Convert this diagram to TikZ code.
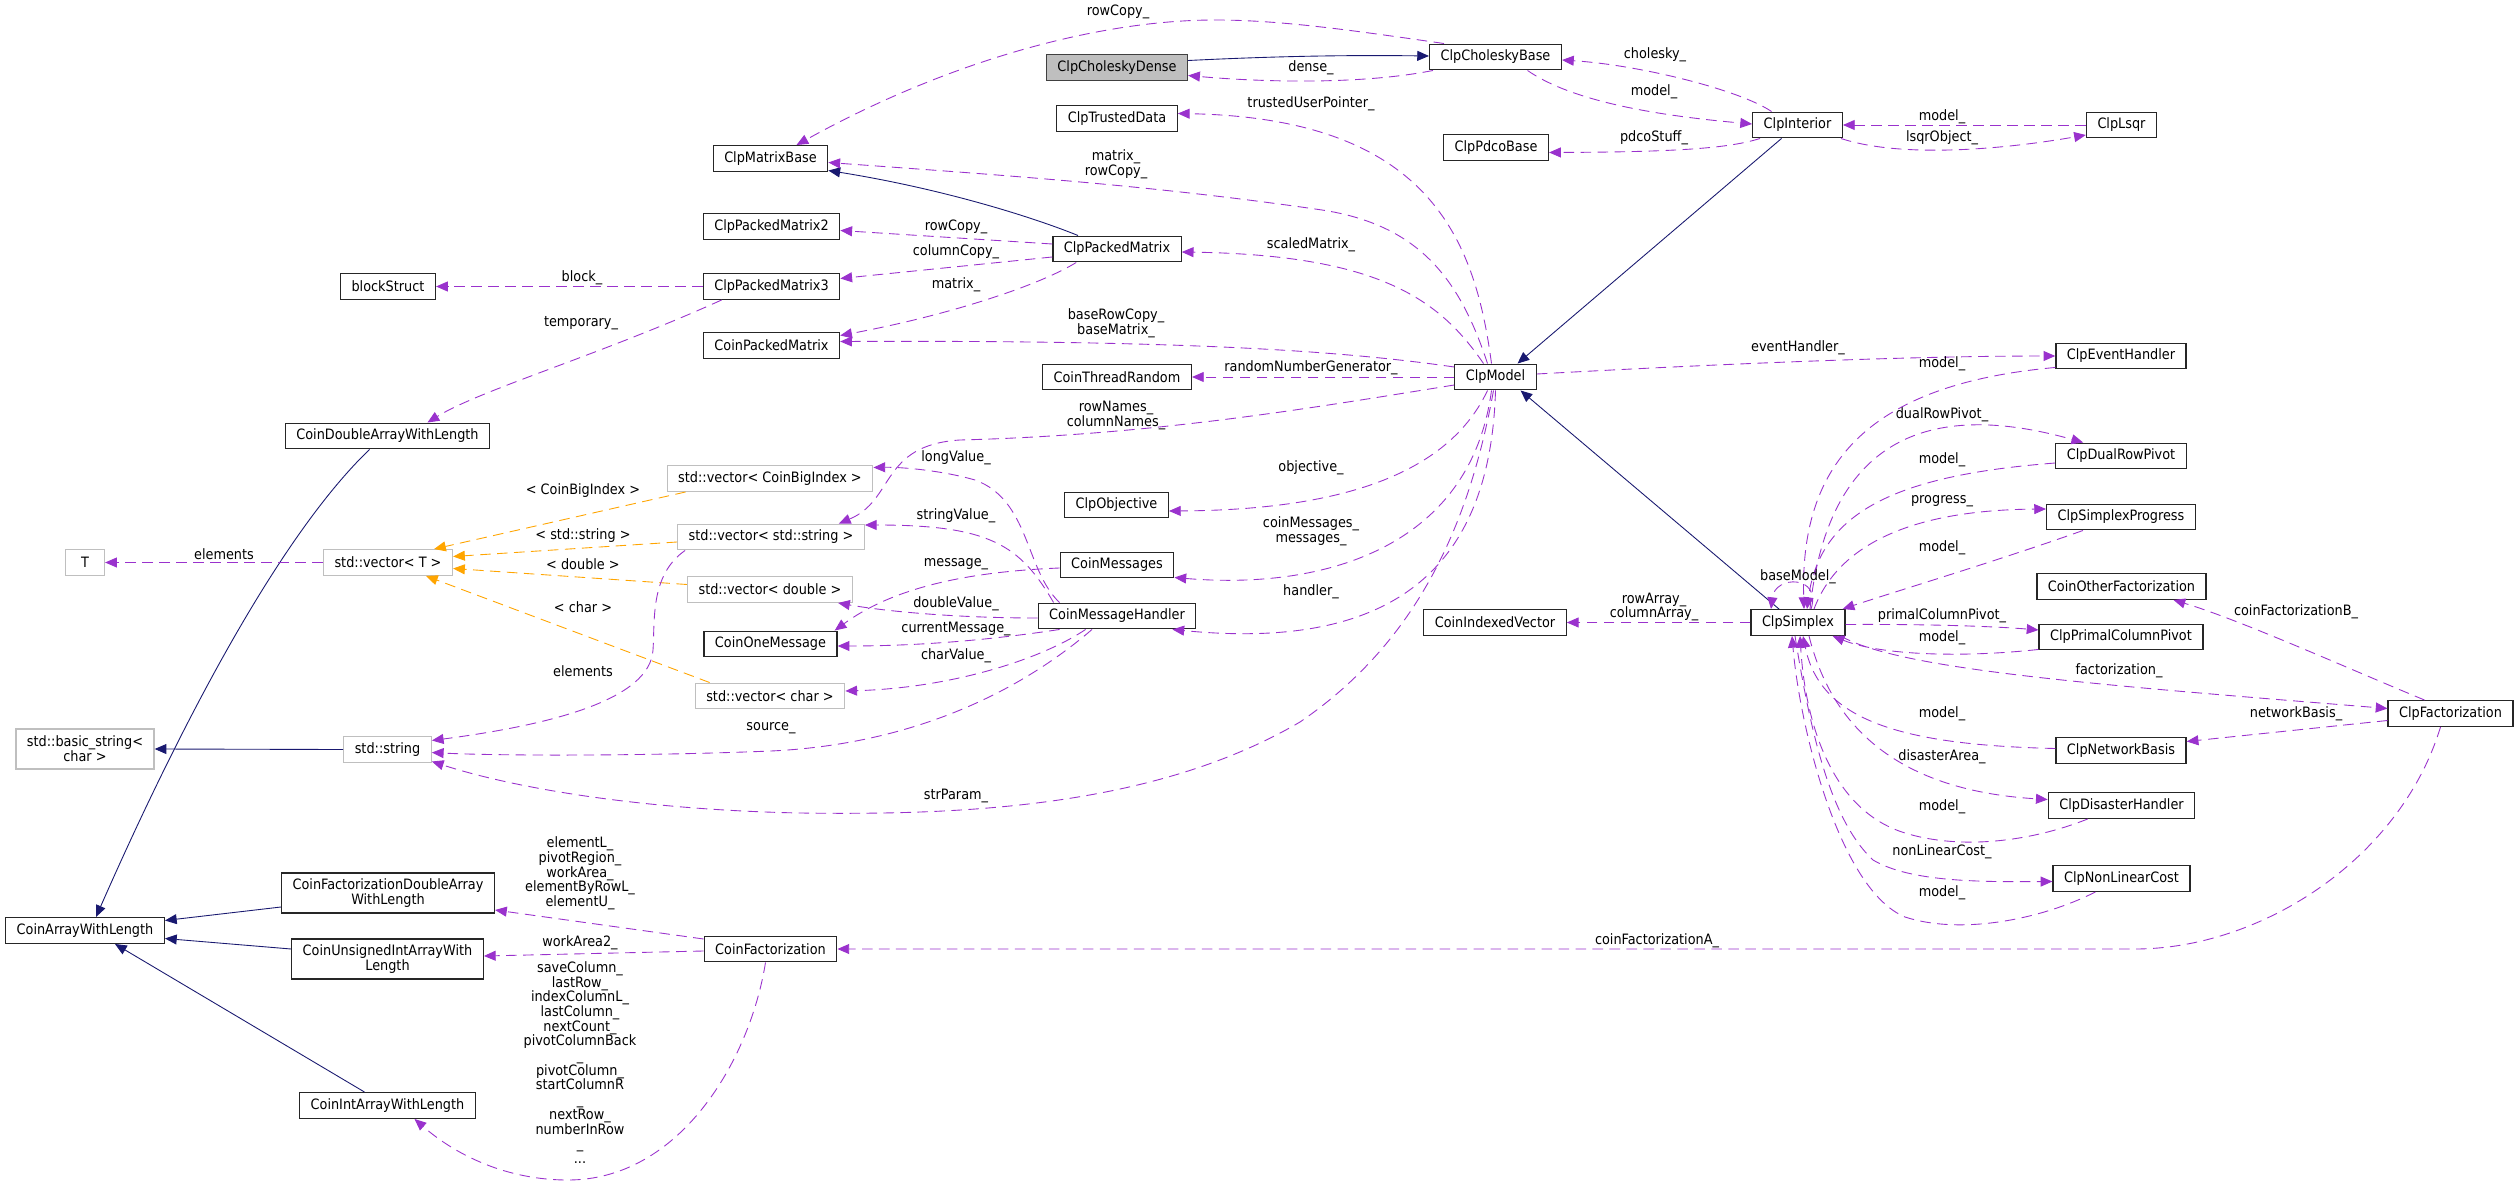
\documentclass[tikz,border=0pt]{standalone}
\usepackage{fontspec}
\setmainfont{DejaVu Sans Condensed}
\usepackage{xcolor}
\usetikzlibrary{arrows.meta,calc}
\definecolor{useline}{RGB}{154,50,205}
\definecolor{navyline}{RGB}{25,25,112}
\definecolor{tmplline}{RGB}{255,165,0}
\definecolor{extgray}{RGB}{191,191,191}
\definecolor{rootfill}{RGB}{191,191,191}
\newcommand{\dxfont}{\fontsize{12.2}{12.55}\selectfont}
\tikzset{
  cls/.style={draw=black!85,line width=1.1pt,fill=white,inner xsep=0.33cm,inner ysep=0pt,
    minimum height=0.77cm,align=center,font=\dxfont},
  ext/.style={cls,draw=extgray},
  root/.style={cls,fill=rootfill,draw=black!75},
  twoline/.style={minimum height=1.2cm},
  uses/.style={useline,line width=0.75pt,dash pattern=on 9pt off 5.5pt,-{Triangle[length=10pt,width=8.5pt]}},
  isa/.style={navyline,line width=0.75pt,-{Triangle[length=10pt,width=8.5pt]}},
  inst/.style={tmplline,line width=0.75pt,dash pattern=on 9pt off 5.5pt,-{Triangle[length=10pt,width=8.5pt]}},
  lbl/.style={font=\dxfont,align=center,inner sep=0pt}
}
\begin{document}
\begin{tikzpicture}[x=0.03cm,y=-0.03cm]
  \path[use as bounding box,fill=white] (0,0) rectangle (2517,1187);
  % classes
  \node[root] (dense) at (1117,67.5) {ClpCholeskyDense};
  \node[cls] (cholbase) at (1495.5,57) {ClpCholeskyBase};
  \node[cls] (trusted) at (1117,118.5) {ClpTrustedData};
  \node[cls] (pdco) at (1496,147.5) {ClpPdcoBase};
  \node[cls] (interior) at (1797.5,125) {ClpInterior};
  \node[cls] (lsqr) at (2121.5,125) {ClpLsqr};
  \node[cls] (matbase) at (770.5,158.5) {ClpMatrixBase};
  \node[cls] (pm2) at (771.5,226.5) {ClpPackedMatrix2};
  \node[cls] (packed) at (1117,249) {ClpPackedMatrix};
  \node[cls] (block) at (388,286.5) {blockStruct};
  \node[cls] (pm3) at (771.5,286.5) {ClpPackedMatrix3};
  \node[cls] (cpm) at (771.5,345.5) {CoinPackedMatrix};
  \node[cls] (rng) at (1117,377) {CoinThreadRandom};
  \node[cls] (model) at (1495.5,377) {ClpModel};
  \node[cls] (evt) at (2121,356) {ClpEventHandler};
  \node[cls] (cdawl) at (387.5,436) {CoinDoubleArrayWithLength};
  \node[cls] (dualrow) at (2121,456) {ClpDualRowPivot};
  \node[ext] (vbig) at (770,478.5) {std::vector< CoinBigIndex >};
  \node[cls] (objective) at (1116.5,505) {ClpObjective};
  \node[cls] (progress) at (2121,517) {ClpSimplexProgress};
  \node[ext] (vstr) at (771,537) {std::vector< std::string >};
  \node[ext,minimum width=1.17cm] (tparam) at (85,562.5) {T};
  \node[ext] (vT) at (388,562.5) {std::vector< T >};
  \node[cls] (messages) at (1117,565) {CoinMessages};
  \node[cls] (other) at (2121.5,586.5) {CoinOtherFactorization};
  \node[ext] (vdbl) at (770,589.5) {std::vector< double >};
  \node[cls] (handler) at (1117,616) {CoinMessageHandler};
  \node[cls] (indexed) at (1495,622.5) {CoinIndexedVector};
  \node[cls] (simplex) at (1798,622.5) {ClpSimplex};
  \node[cls] (primal) at (2121,637) {ClpPrimalColumnPivot};
  \node[cls] (onemsg) at (770.5,644) {CoinOneMessage};
  \node[ext] (vchar) at (770,696) {std::vector< char >};
  \node[cls] (factor) at (2450.5,713.5) {ClpFactorization};
  \node[ext,twoline] (basicstr) at (85,749) {std::basic\_string<\\char >};
  \node[ext] (string) at (387.5,749.5) {std::string};
  \node[cls] (network) at (2121,750.5) {ClpNetworkBasis};
  \node[cls] (disaster) at (2121.5,805.5) {ClpDisasterHandler};
  \node[cls] (nonlin) at (2121.5,878.5) {ClpNonLinearCost};
  \node[cls,twoline] (cfdawl) at (388,893) {CoinFactorizationDoubleArray\\WithLength};
  \node[cls] (cawl) at (85,930.5) {CoinArrayWithLength};
  \node[cls] (coinfact) at (770.5,949) {CoinFactorization};
  \node[cls,twoline] (cuiawl) at (387.5,959) {CoinUnsignedIntArrayWith\\Length};
  \node[cls] (ciawl) at (387.5,1105.5) {CoinIntArrayWithLength};

  % inheritance
  \draw[isa] ($(dense.east)+(0,-7)$) .. controls (1280,56) and (1350,55) .. ($(cholbase.west)+(0,-1)$);
  \draw[isa] ($(packed.north)+(-39,0)$) .. controls (1040,220) and (950,190) .. ($(matbase.east)+(0,12)$);
  \draw[isa] ($(interior.south)+(-16,0)$) -- ($(model.north)+(22,0)$);
  \draw[isa] ($(simplex.north)+(-19,0)$) -- ($(model.south)+(25,0)$);
  \draw[isa] ($(cdawl.south)+(-18,0)$) .. controls (270,545) and (165,760) .. ($(cawl.north)+(11,0)$);
  \draw[isa] (string.west) -- (basicstr.east);
  \draw[isa] ($(cfdawl.west)+(0,14)$) -- ($(cawl.east)+(0,-10)$);
  \draw[isa] ($(cuiawl.west)+(0,-10)$) -- ($(cawl.east)+(0,8)$);
  \draw[isa] ($(ciawl.north)+(-23,0)$) -- ($(cawl.south)+(30,0)$);

  % cholesky and interior
  \draw[uses] ($(cholbase.south west)+(4,0)$) .. controls (1360,85) and (1260,82) .. ($(dense.east)+(0,8)$);
  \draw[uses] ($(cholbase.north west)+(15,0)$) .. controls (1350,30) and (1280,20) .. (1215,20)
    .. controls (1100,20) and (950,60) .. ($(matbase.north)+(26,0)$);
  \draw[uses] ($(interior.north)+(-26,0)$) .. controls (1740,90) and (1640,65) .. ($(cholbase.east)+(0,3)$);
  \draw[uses] ($(cholbase.south)+(32,0)$) .. controls (1570,100) and (1650,115) .. ($(interior.west)+(0,-1)$);
  \draw[uses] ($(interior.south west)+(8,0)$) .. controls (1730,148) and (1680,152) .. ($(pdco.east)+(0,5)$);
  \draw[uses] (lsqr.west) -- (interior.east);
  \draw[uses] ($(interior.south east)+(-2,0)$) .. controls (1900,158) and (2000,150) .. ($(lsqr.west)+(0,10)$);

  % model members
  \draw[uses] ($(model.north)+(-4,0)$) .. controls (1475,240) and (1430,118) .. ($(trusted.east)+(0,-5)$);
  \draw[uses] ($(model.north)+(-8,0)$) .. controls (1460,280) and (1420,225) .. (1322,210)
    .. controls (1150,185) and (1000,175) .. ($(matbase.east)+(0,4)$);
  \draw[uses] ($(model.north)+(-12,0)$) .. controls (1440,300) and (1380,255) .. ($(packed.east)+(0,3)$);
  \draw[uses] ($(model.west)+(0,-10)$) .. controls (1350,352) and (1200,340) .. ($(cpm.east)+(0,-4)$);
  \draw[uses] (model.west) -- (rng.east);
  \draw[uses] ($(model.east)+(0,-3)$) .. controls (1700,365) and (1900,356) .. (evt.west);
  \draw[uses] ($(model.west)+(0,8)$) .. controls (1300,410) and (1150,435) .. (960,440)
    .. controls (880,445) and (895,500) .. ($(vstr.north east)+(-26,0)$);
  \draw[uses] ($(model.south)+(-8,0)$) .. controls (1450,470) and (1350,510) .. ($(objective.east)+(0,6)$);
  \draw[uses] ($(model.south)+(-4,0)$) .. controls (1470,550) and (1320,590) .. ($(messages.south east)+(0,-1)$);
  \draw[uses] (model.south) .. controls (1490,580) and (1380,650) .. ($(handler.south east)+(-24,0)$);
  \draw[uses] ($(model.south)+(-2,0)$) .. controls (1470,520) and (1420,640) .. (1300,722)
    .. controls (1150,810) and (950,815) .. (800,813)
    .. controls (650,810) and (520,790) .. ($(string.east)+(0,12)$);

  % packed matrix
  \draw[uses] ($(packed.west)+(0,-5)$) -- ($(pm2.east)+(0,4)$);
  \draw[uses] ($(packed.west)+(0,8)$) -- ($(pm3.east)+(0,-8)$);
  \draw[uses] ($(packed.south west)+(24,0)$) .. controls (1040,285) and (950,315) .. ($(cpm.east)+(0,-10)$);
  \draw[uses] (pm3.west) -- (block.east);
  \draw[uses] ($(pm3.south west)+(19,0)$) .. controls (600,355) and (480,390) .. ($(cdawl.north)+(40,0)$);

  % templates
  \draw[inst] ($(vbig.south west)+(19,0)$) -- ($(vT.north east)+(-19,0)$);
  \draw[inst] ($(vstr.west)+(0,5)$) -- ($(vT.east)+(0,-6)$);
  \draw[inst] ($(vdbl.west)+(0,-5)$) -- ($(vT.east)+(0,6)$);
  \draw[inst] ($(vchar.north west)+(15,0)$) -- ($(vT.south)+(38,0)$);
  \draw[uses] (vT.west) -- (tparam.east);
  \draw[uses] ($(vstr.south west)+(8,0)$) .. controls (650,575) and (655,620) .. (653,650)
    .. controls (650,700) and (550,725) .. ($(string.east)+(0,-9)$);

  % message handler
  \draw[uses] ($(handler.north west)+(16,0)$) .. controls (1020,545) and (990,525) .. ($(vstr.east)+(0,-12)$);
  \draw[uses] ($(handler.north west)+(22,0)$) .. controls (1025,570) and (1030,500) .. (975,480)
    .. controls (940,470) and (900,467) .. ($(vbig.east)+(0,-11)$);
  \draw[uses] ($(messages.west)+(0,3)$) .. controls (960,572) and (890,590) .. ($(onemsg.north east)+(-3,0)$);
  \draw[uses] ($(handler.west)+(0,2)$) .. controls (960,618) and (890,612) .. ($(vdbl.south east)+(-15,0)$);
  \draw[uses] ($(handler.south west)+(22,0)$) .. controls (990,640) and (920,646) .. ($(onemsg.east)+(0,2)$);
  \draw[uses] ($(handler.south west)+(48,0)$) .. controls (1040,660) and (950,688) .. ($(vchar.east)+(0,-5)$);
  \draw[uses] ($(handler.south)+(-25,0)$) .. controls (1010,700) and (900,745) .. (771,751)
    .. controls (650,756) and (500,756) .. ($(string.east)+(0,3)$);

  % simplex
  \draw[uses] (simplex.west) -- (indexed.east);
  \draw[uses] ($(evt.south west)+(0,-2)$) .. controls (1860,385) and (1800,470) .. ($(simplex.north)+(6,0)$);
  \draw[uses] ($(simplex.north)+(12,0)$) .. controls (1830,420) and (1950,405) .. ($(dualrow.north west)+(28,0)$);
  \draw[uses] ($(dualrow.west)+(0,7)$) .. controls (1900,475) and (1820,510) .. ($(simplex.north)+(9,0)$);
  \draw[uses] ($(simplex.north)+(16,0)$) .. controls (1840,540) and (1920,510) .. ($(progress.west)+(0,-8)$);
  \draw[uses] ($(progress.south west)+(37,0)$) .. controls (2000,560) and (1900,590) .. ($(simplex.north east)+(-3,0)$);
  \draw[uses] ($(simplex.north)+(13,0)$) .. controls (1822,575) and (1775,575) .. ($(simplex.north)+(-27,0)$);
  \draw[uses] ($(simplex.east)+(0,2)$) .. controls (1920,624) and (1990,626) .. ($(primal.west)+(0,-7)$);
  \draw[uses] ($(primal.south west)+(0,-1)$) .. controls (1960,658) and (1880,655) .. ($(simplex.south east)+(-13,0)$);
  \draw[uses] ($(simplex.south east)+(-5,0)$) .. controls (1900,670) and (2100,685) .. ($(factor.west)+(0,-5)$);
  \draw[uses] ($(factor.north)+(-26,0)$) .. controls (2340,665) and (2240,620) .. ($(other.south)+(52,0)$);
  \draw[uses] ($(factor.west)+(0,7)$) -- ($(network.east)+(0,-9)$);
  \draw[uses] ($(network.west)+(0,-2)$) .. controls (1900,745) and (1820,720) .. ($(simplex.south)+(5,0)$);
  \draw[uses] ($(simplex.south)+(11,0)$) .. controls (1830,720) and (1890,790) .. ($(disaster.west)+(0,-6)$);
  \draw[uses] ($(disaster.south west)+(40,0)$) .. controls (2030,842) and (1960,850) .. (1905,833)
    .. controls (1830,810) and (1805,720) .. ($(simplex.south)+(2,0)$);
  \draw[uses] ($(simplex.south)+(-3,0)$) .. controls (1810,730) and (1830,820) .. (1873,860)
    .. controls (1910,882) and (1980,882) .. ($(nonlin.west)+(0,3)$);
  \draw[uses] ($(nonlin.south west)+(43,0)$) .. controls (2040,920) and (1960,935) .. (1905,917)
    .. controls (1840,890) and (1800,730) .. ($(simplex.south)+(-6,0)$);
  \draw[uses] ($(factor.south)+(-10,0)$) .. controls (2400,860) and (2260,949) .. (2135,949) -- (coinfact.east);

  % coin factorization
  \draw[uses] ($(coinfact.west)+(0,-10)$) -- ($(cfdawl.east)+(0,17)$);
  \draw[uses] ($(coinfact.west)+(0,2)$) -- ($(cuiawl.east)+(0,-3)$);
  \draw[uses] ($(coinfact.south)+(-5,0)$) .. controls (750,1060) and (680,1180) .. (568,1180)
    .. controls (500,1180) and (450,1150) .. ($(ciawl.south)+(27,0)$);

  % member labels
  \node[lbl] (lRowCopyTop) at (1118,12) {rowCopy\_};
  \node[lbl] (lDense) at (1311,68) {dense\_};
  \node[lbl] (lTrusted) at (1311,104) {trustedUserPointer\_};
  \node[lbl] (lMatrixRow) at (1116,164.5) {matrix\_\\rowCopy\_};
  \node[lbl] (lRowCopy) at (956,227) {rowCopy\_};
  \node[lbl] (lColumnCopy) at (956,252) {columnCopy\_};
  \node[lbl] (lMatrix) at (956,285) {matrix\_};
  \node[lbl] (lScaled) at (1311,245) {scaledMatrix\_};
  \node[lbl] (lBaseRow) at (1116,323) {baseRowCopy\_\\baseMatrix\_};
  \node[lbl] (lRandom) at (1311,368) {randomNumberGenerator\_};
  \node[lbl] (lCholesky) at (1655,55) {cholesky\_};
  \node[lbl] (lModelChol) at (1654,92) {model\_};
  \node[lbl] (lPdco) at (1654,138) {pdcoStuff\_};
  \node[lbl] (lModelLsqr) at (1942,117) {model\_};
  \node[lbl] (lLsqrObj) at (1942,138) {lsqrObject\_};
  \node[lbl] (lEvent) at (1798,348) {eventHandler\_};
  \node[lbl] (lModelEvt) at (1942,364) {model\_};
  \node[lbl] (lBlock) at (582,278) {block\_};
  \node[lbl] (lTemporary) at (581,323) {temporary\_};
  \node[lbl] (lElemT) at (224,554) {elements};
  \node[lbl] (lBigIdx) at (583,491) {< CoinBigIndex >};
  \node[lbl] (lStdStr) at (583,536) {< std::string >};
  \node[lbl] (lDouble) at (583,564) {< double >};
  \node[lbl] (lChar) at (583,607) {< char >};
  \node[lbl] (lElemStr) at (583,671) {elements};
  \node[lbl] (lSource) at (771,728) {source\_};
  \node[lbl] (lNames) at (1116,415.5) {rowNames\_\\columnNames\_};
  \node[lbl] (lLong) at (956,458) {longValue\_};
  \node[lbl] (lObjective) at (1311,468) {objective\_};
  \node[lbl] (lString) at (956,516) {stringValue\_};
  \node[lbl] (lCoinMsg) at (1311,531.5) {coinMessages\_\\messages\_};
  \node[lbl] (lMessage) at (956,564) {message\_};
  \node[lbl] (lHandler) at (1311,592) {handler\_};
  \node[lbl] (lDoubleVal) at (956,604) {doubleValue\_};
  \node[lbl] (lCurrent) at (956,629) {currentMessage\_};
  \node[lbl] (lCharVal) at (956,656) {charValue\_};
  \node[lbl] (lStrParam) at (956,796) {strParam\_};
  \node[lbl] (lRowArray) at (1654,607) {rowArray\_\\columnArray\_};
  \node[lbl] (lDualRow) at (1942,415) {dualRowPivot\_};
  \node[lbl] (lModelDual) at (1942,460) {model\_};
  \node[lbl] (lProgress) at (1942,501) {progress\_};
  \node[lbl] (lModelProg) at (1942,548) {model\_};
  \node[lbl] (lBaseModel) at (1798,577) {baseModel\_};
  \node[lbl] (lFactB) at (2296,612) {coinFactorizationB\_};
  \node[lbl] (lPrimal) at (1942,616) {primalColumnPivot\_};
  \node[lbl] (lModelPrimal) at (1942,638) {model\_};
  \node[lbl] (lFactorization) at (2119,671) {factorization\_};
  \node[lbl] (lModelNet) at (1942,714) {model\_};
  \node[lbl] (lNetwork) at (2296,714) {networkBasis\_};
  \node[lbl] (lDisaster) at (1942,757) {disasterArea\_};
  \node[lbl] (lModelDis) at (1942,807) {model\_};
  \node[lbl] (lNonLin) at (1942,852) {nonLinearCost\_};
  \node[lbl] (lModelNon) at (1942,893) {model\_};
  \node[lbl] (lFactA) at (1657,941) {coinFactorizationA\_};
  \node[lbl] (lElementL) at (580,873.5) {elementL\_\\pivotRegion\_\\workArea\_\\elementByRowL\_\\elementU\_};
  \node[lbl] (lWorkArea2) at (580,943) {workArea2\_};
  \node[lbl] (lSaveColumn) at (580,1062.5) {saveColumn\_\\lastRow\_\\indexColumnL\_\\lastColumn\_\\nextCount\_\\pivotColumnBack\\\_\\pivotColumn\_\\startColumnR\hspace*{0.66cm}\\\_\\nextRow\_\\numberInRow\hspace*{0.66cm}\\\_\\...};
\end{tikzpicture}
\end{document}
